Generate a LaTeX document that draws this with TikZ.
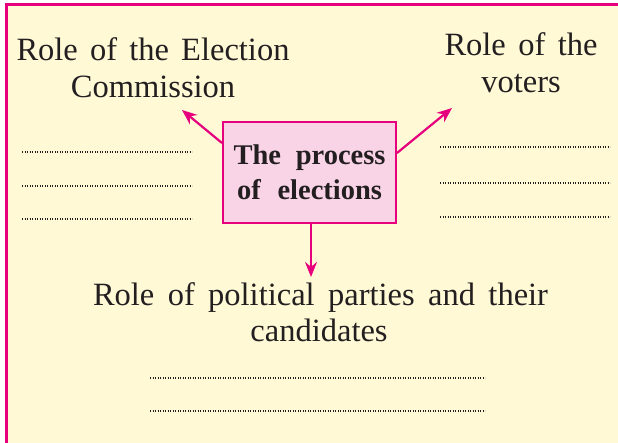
\documentclass[tikz,border=0pt]{standalone}
\usepackage{fontspec}
\setmainfont{Liberation Serif}
\usetikzlibrary{arrows.meta}
\definecolor{mag}{HTML}{E6007E}
\definecolor{bgy}{HTML}{FFF9D6}
\definecolor{boxp}{HTML}{F9D3E6}
\definecolor{ink}{HTML}{231F20}
\tikzset{
  lbl/.style={anchor=base, inner sep=0pt, text=ink, font=\fontsize{32.5}{37}\selectfont},
  procbox/.style={draw=mag, line width=2pt, fill=boxp, minimum width=173pt, minimum height=101pt,
    inner sep=0pt, align=center, text=ink, font=\fontsize{28.5}{35}\selectfont\bfseries},
  arr/.style={draw=mag, line width=2.2pt, -{Stealth[length=15pt,width=12pt]}},
  dotline/.style={draw=ink, line width=1.2pt, dash pattern=on 1.1pt off 1.4pt},
}
\begin{document}
\begin{tikzpicture}[x=1pt,y=-1pt]
\useasboundingbox (0,0) rectangle (618,442);
\clip (0,0) rectangle (618,442);
\fill[white] (0,0) rectangle (618,442);
\draw[mag, line width=3pt, fill=bgy] (6.5,4.5) rectangle (640,470);
% central box
\node[procbox] (box) at (309.5,172.5) {\makebox[152pt][s]{The process}\\\makebox[145pt][s]{of elections}};
% labels
\node[lbl] (ec1) at (153,60) {\makebox[273pt][s]{Role of the Election}};
\node[lbl] (ec2) at (153,97) {Commission};
\node[lbl] (vo1) at (521,55) {\makebox[153pt][s]{Role of the}};
\node[lbl] (vo2) at (521,92) {voters};
\node[lbl] (pp1) at (320.5,305) {\makebox[455pt][s]{Role of political parties and their}};
\node[lbl] (pp2) at (319,341) {candidates};
% arrows
\coordinate (tl) at (182,110);
\coordinate (tr) at (452,108);
\coordinate (tb) at (311,277);
\draw[arr] (box.west |- 0,143) -- (tl);
\draw[arr] (box.east |- 0,153) -- (tr);
\draw[arr] (box.south -| tb) -- (tb);
% dotted answer lines
\foreach \y in {152,186,219} \draw[dotline] (22,\y) -- (192,\y);
\foreach \y in {147,183,217} \draw[dotline] (440,\y) -- (610,\y);
\foreach \y in {378,411} \draw[dotline] (150,\y) -- (485,\y);
\end{tikzpicture}
\end{document}
